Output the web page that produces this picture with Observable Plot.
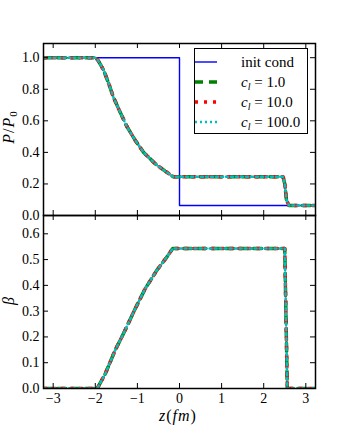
<!DOCTYPE html>
<html><head><meta charset="utf-8">
<script src="https://cdn.jsdelivr.net/npm/d3@7"></script>
<script src="https://cdn.jsdelivr.net/npm/@observablehq/plot@0.6"></script>
<style>
body{margin:0;background:#fff;}
#wrap{position:relative;width:349px;height:432px;font-family:"Liberation Serif",serif;}
#wrap svg{position:absolute;left:0;background:transparent !important;overflow:visible;}
#wrap svg text{font-family:"Liberation Serif",serif;}
.legend{position:absolute;left:194px;top:48px;width:112px;height:84px;border:1.3px solid #000;background:#fff;font-size:15px;color:#000;}
.legend .row{position:absolute;left:0;width:112px;height:20px;line-height:20px;}
.legend svg.sw{position:absolute !important;left:9px;top:0;}
.legend .lab{position:absolute;left:46px;top:0;white-space:nowrap;}
.legend sub{font-size:10px;vertical-align:-3px;line-height:0;}
</style></head><body><div id="wrap"></div><script>
// ---- data ----
const xTicks = [-3, -2, -1, 0, 1, 2, 3];
const pTicks = [0.0, 0.2, 0.4, 0.6, 0.8, 1.0];
const bTicks = [0.0, 0.1, 0.2, 0.3, 0.4, 0.5, 0.6];

const zInit = [-3.23, 0, 0, 3.23];
const pInit = [1.0, 1.0, 0.063, 0.063];

const zP = [-3.23, -2.0, -1.94, -1.80, -1.68, -1.57, -1.41, -1.25, -1.05, -0.855, -0.578, -0.34, -0.145, 2.46, 2.50, 2.54, 2.60, 3.23];
const pC1   = [1.0, 1.0, 0.985, 0.921, 0.835, 0.75, 0.655, 0.564, 0.476, 0.401, 0.328, 0.281, 0.245, 0.245, 0.20, 0.10, 0.063, 0.063];
const pC10  = [1.0, 1.0, 0.985, 0.921, 0.835, 0.75, 0.655, 0.564, 0.476, 0.401, 0.328, 0.281, 0.245, 0.245, 0.20, 0.10, 0.063, 0.063];
const pC100 = [1.0, 1.0, 0.985, 0.921, 0.835, 0.75, 0.655, 0.564, 0.476, 0.401, 0.328, 0.281, 0.245, 0.245, 0.20, 0.10, 0.063, 0.063];

const zB = [-3.23, -1.96, -1.92, -1.76, -1.53, -1.33, -1.05, -0.815, -0.54, -0.30, -0.16, 2.50, 2.53, 2.56, 3.23];
const bC1   = [0, 0, 0.01, 0.058, 0.148, 0.213, 0.31, 0.387, 0.458, 0.51, 0.543, 0.543, 0.27, 0, 0];
const bC10  = [0, 0, 0.01, 0.058, 0.148, 0.213, 0.31, 0.387, 0.458, 0.51, 0.543, 0.543, 0.27, 0, 0];
const bC100 = [0, 0, 0.01, 0.058, 0.148, 0.213, 0.31, 0.387, 0.458, 0.51, 0.543, 0.543, 0.27, 0, 0];

// ---- styles ----
const styles = {
  init: {stroke: "#0000ff", strokeWidth: 1.4, dash: null},
  c1:   {stroke: "#008000", strokeWidth: 3.5, dash: "8,6"},
  c10:  {stroke: "#ff0000", strokeWidth: 3.5, dash: "3,6"},
  c100: {stroke: "#00bfbf", strokeWidth: 2.5, dash: "2,3"}
};

const W = 349, ML = 43, MR = 34;
const wrap = document.getElementById("wrap");

function lineMark(xs, ys, s) {
  return Plot.line(ys, {x: xs, y: ys, stroke: s.stroke, strokeWidth: s.strokeWidth,
    strokeDasharray: s.dash || undefined, curve: "linear", clip: true});
}

function panel({height, mt, mb, yDomain, yTicks, lines, showX}) {
  const fw = W - ML - MR, fh = height - mt - mb, tl = 5;
  const marks = [
    ...lines,
    Plot.tickX(xTicks, {x: d => d, insetTop: fh - tl, stroke: "#000", strokeWidth: 1}),
    Plot.tickX(xTicks, {x: d => d, insetBottom: fh - tl, stroke: "#000", strokeWidth: 1}),
    Plot.tickY(yTicks, {y: d => d, insetRight: fw - tl, stroke: "#000", strokeWidth: 1}),
    Plot.tickY(yTicks, {y: d => d, insetLeft: fw - tl, stroke: "#000", strokeWidth: 1}),
    Plot.axisY(yTicks, {tickSize: 0, tickPadding: 4, tickFormat: d3.format(".1f"), fontSize: 14, label: null}),
    Plot.frame({stroke: "#000", strokeWidth: 1.5})
  ];
  if (showX) marks.push(Plot.axisX(xTicks, {tickSize: 0, tickPadding: 5, tickFormat: d3.format("d"), fontSize: 14, label: null}));
  return Plot.plot({
    width: W, height, marginTop: mt, marginBottom: mb, marginLeft: ML, marginRight: MR,
    style: {fontFamily: "Liberation Serif, serif", fontSize: "14px", background: "transparent", color: "#000"},
    x: {domain: [-3.23, 3.23], axis: null},
    y: {domain: yDomain, axis: null},
    marks
  });
}

const topPlot = panel({
  height: 225, mt: 43, mb: 10, yDomain: [0, 1.09], yTicks: pTicks,
  lines: [
    lineMark(zInit, pInit, styles.init),
    lineMark(zP, pC1, styles.c1),
    lineMark(zP, pC10, styles.c10),
    lineMark(zP, pC100, styles.c100)
  ]
});
topPlot.style.top = "0px";
wrap.appendChild(topPlot);

const botPlot = panel({
  height: 227, mt: 10, mb: 44, yDomain: [0, 0.671], yTicks: bTicks, showX: true,
  lines: [
    lineMark(zB, bC1, styles.c1),
    lineMark(zB, bC10, styles.c10),
    lineMark(zB, bC100, styles.c100)
  ]
});
botPlot.style.top = "205px";
wrap.appendChild(botPlot);

// axis labels
const tlab = d3.select(topPlot).append("text")
  .attr("transform", "translate(14,127) rotate(-90)")
  .attr("text-anchor", "middle").attr("font-size", 16).attr("fill", "#000")
  .attr("letter-spacing", 1);
tlab.append("tspan").attr("font-style", "italic").text("P");
tlab.append("tspan").text("/");
tlab.append("tspan").attr("font-style", "italic").text("P");
tlab.append("tspan").attr("font-size", 11).attr("dy", 3).text("0");

d3.select(botPlot).append("text")
  .attr("transform", "translate(14,96) rotate(-90)")
  .attr("text-anchor", "middle").attr("font-size", 16).attr("fill", "#000")
  .attr("font-style", "italic").text("β");

const xlab = d3.select(botPlot).append("text")
  .attr("x", 178).attr("y", 216).attr("text-anchor", "middle")
  .attr("font-size", 16).attr("fill", "#000").attr("letter-spacing", 1);
xlab.append("tspan").attr("font-style", "italic").text("z");
xlab.append("tspan").text("(");
xlab.append("tspan").attr("font-style", "italic").text("fm");
xlab.append("tspan").text(")");

// legend
const legendItems = [
  {key: "init", label: "init cond"},
  {key: "c1", value: "1.0"},
  {key: "c10", value: "10.0"},
  {key: "c100", value: "100.0"}
];
const leg = document.createElement("div");
leg.className = "legend";
legendItems.forEach((it, i) => {
  const row = document.createElement("div");
  row.className = "row";
  row.style.top = (2.7 + i * 20.2) + "px";
  const s = styles[it.key];
  row.innerHTML =
    `<svg class="sw" width="22" height="20"><line x1="0" x2="22" y1="10" y2="10" stroke="${s.stroke}" stroke-width="${s.strokeWidth}" ${s.dash ? `stroke-dasharray="${s.dash}"` : ""}/></svg>` +
    `<span class="lab">${it.label ? it.label : `<i>c</i><sub><i>l</i></sub> = ${it.value}`}</span>`;
  leg.appendChild(row);
});
wrap.appendChild(leg);
</script></body></html>
